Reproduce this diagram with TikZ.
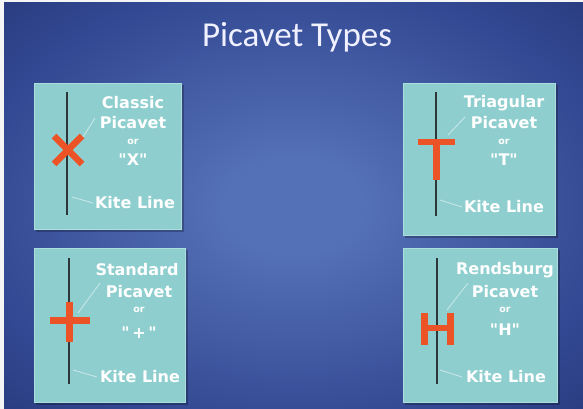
\documentclass[tikz,border=0pt]{standalone}
\usepackage{fontspec}
\setmainfont{DejaVu Sans}[Ligatures=TeXOff]
\newfontfamily\titlefont{Carlito}
\definecolor{bgin}{RGB}{84,112,182}
\definecolor{bgmid}{RGB}{50,72,146}
\definecolor{bgout}{RGB}{28,40,96}
\definecolor{boxfill}{RGB}{143,206,206}
\definecolor{boxedge}{RGB}{172,222,222}
\definecolor{kitecol}{RGB}{45,55,58}
\definecolor{picared}{RGB}{236,84,40}
\pgfdeclareradialshading{slidebg}{\pgfpoint{0bp}{0bp}}{color(0bp)=(bgin); color(6bp)=(bgin); color(28bp)=(bgmid); color(50bp)=(bgout); color(100bp)=(bgout)}
\newcommand\shlbl[4]{%
  \node[#3] (#1) at (#2) {#4};}
\begin{document}
\begin{tikzpicture}[x=1pt,y=-1pt,
  panel/.style={draw=boxedge, fill=boxfill, line width=0.8pt, inner sep=0pt},
  kite/.style={draw=kitecol, line width=2.6pt},
  pica/.style={draw=picared, line width=6.5pt},
  lbl/.style={text=white, font=\bfseries\fontsize{16}{17}\selectfont, inner sep=0pt},
  smalllbl/.style={text=white, font=\bfseries\fontsize{9.5}{10}\selectfont, inner sep=0pt},
  ptr/.style={draw=white, draw opacity=0.55, line width=0.8pt}]
\useasboundingbox (0,0) rectangle (583,409);
\fill[white!92!gray] (0,0) rectangle (583,409);
\shade[shading=slidebg] (4,3) rectangle (583,409);
\node[text=white!94!blue, font=\titlefont\fontsize{35}{38}\selectfont, inner sep=0pt] (title) at (297,37) {Picavet Types};
% panels
\fill[black, opacity=0.25] (36,85) rectangle (184,232);
\node[panel, minimum width=147pt, minimum height=146pt] (p1) at (107.5,156) {};
\fill[black, opacity=0.25] (405,85) rectangle (558,238);
\node[panel, minimum width=152pt, minimum height=152pt] (p2) at (479,159) {};
\fill[black, opacity=0.25] (36,250) rectangle (188,405);
\node[panel, minimum width=151pt, minimum height=154pt] (p3) at (109.5,325) {};
\fill[black, opacity=0.25] (405,250) rectangle (560,405);
\node[panel, minimum width=154pt, minimum height=154pt] (p4) at (480,325) {};
% kite lines
\coordinate (k1a) at (67,92); \coordinate (k1b) at (67,215);
\coordinate (k2a) at (436,92); \coordinate (k2b) at (436,216);
\coordinate (k3a) at (69,258); \coordinate (k3b) at (69,384);
\coordinate (k4a) at (437,258); \coordinate (k4b) at (437,384);
\draw[kite] (k1a) -- (k1b);
\draw[kite] (k2a) -- (k2b);
\draw[kite] (k3a) -- (k3b);
\draw[kite] (k4a) -- (k4b);
% picavets
\draw[pica] (54,136) -- (82,164) (54,164) -- (82,136);
\draw[pica] (418,142) -- (455,142);
\draw[pica, line width=7pt] (436,139) -- (436,180);
\draw[pica, line width=7pt] (50,320) -- (90,320) (69,302) -- (69,342);
\draw[pica, line width=7pt] (424,313) -- (424,345) (450,313) -- (450,345);
\draw[pica, line width=6pt] (424,328) -- (450,328);
% labels panel 1
\shlbl{t1a}{133,103}{lbl}{Classic}
\shlbl{t1b}{133,123}{lbl}{Picavet}
\shlbl{t1c}{133,142}{smalllbl}{or}
\shlbl{t1d}{133,160}{lbl}{"X"}
\shlbl{t1e}{135,203}{lbl}{Kite Line}
\coordinate (c1a) at (83,137); \coordinate (c1b) at (95,118);
\coordinate (c1c) at (72,197); \coordinate (c1d) at (93,203);
\draw[ptr] (c1a) -- (c1b);
\draw[ptr] (c1c) -- (c1d);
% labels panel 2
\shlbl{t2a}{504,103}{lbl}{Triagular}
\shlbl{t2b}{504,123}{lbl}{Picavet}
\shlbl{t2c}{504,142}{smalllbl}{or}
\shlbl{t2d}{504,160}{lbl}{"T"}
\shlbl{t2e}{504,207}{lbl}{Kite Line}
\coordinate (c2a) at (448,135); \coordinate (c2b) at (465,117);
\coordinate (c2c) at (440,200); \coordinate (c2d) at (462,207);
\draw[ptr] (c2a) -- (c2b);
\draw[ptr] (c2c) -- (c2d);
% labels panel 3
\shlbl{t3a}{137,270}{lbl}{Standard}
\shlbl{t3b}{139,292}{lbl}{Picavet}
\shlbl{t3c}{139,310}{smalllbl}{or}
\shlbl{t3d}{139,333}{lbl}{"\,+\,"}
\shlbl{t3e}{140,377}{lbl}{Kite Line}
\coordinate (c3a) at (78,313); \coordinate (c3b) at (100,283);
\coordinate (c3c) at (73,370); \coordinate (c3d) at (97,377);
\draw[ptr] (c3a) -- (c3b);
\draw[ptr] (c3c) -- (c3d);
% labels panel 4
\shlbl{t4a}{505,270}{lbl}{Rendsburg}
\shlbl{t4b}{505,292}{lbl}{Picavet}
\shlbl{t4c}{505,310}{smalllbl}{or}
\shlbl{t4d}{505,330}{lbl}{"H"}
\shlbl{t4e}{506,377}{lbl}{Kite Line}
\coordinate (c4a) at (447,310); \coordinate (c4b) at (468,283);
\coordinate (c4c) at (440,370); \coordinate (c4d) at (462,377);
\draw[ptr] (c4a) -- (c4b);
\draw[ptr] (c4c) -- (c4d);
\end{tikzpicture}
\end{document}
